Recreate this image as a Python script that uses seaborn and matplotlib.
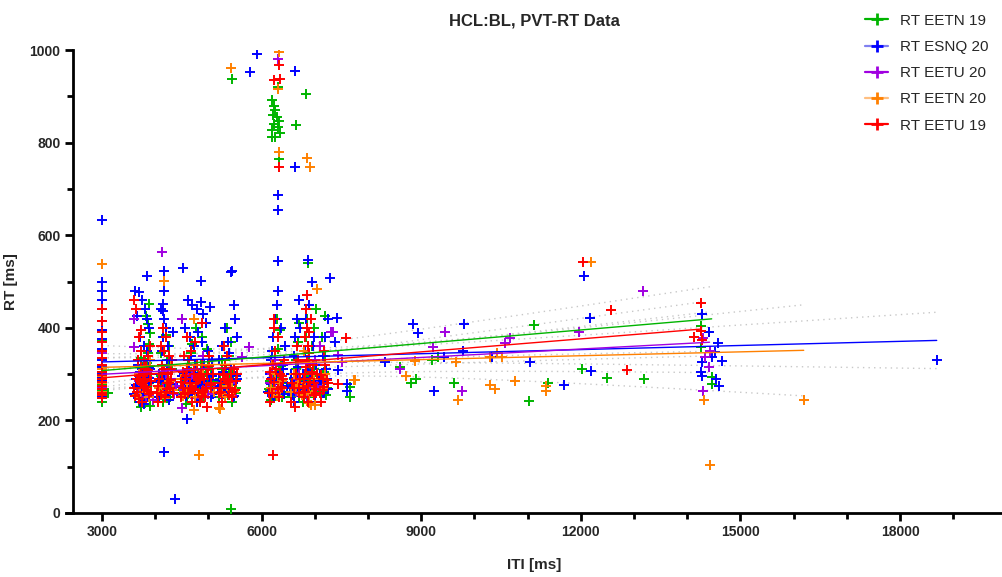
import numpy as np
import matplotlib
matplotlib.use('Agg')
import matplotlib.pyplot as plt
from matplotlib.lines import Line2D
from matplotlib.ticker import MultipleLocator
import seaborn as sns

# valores (ITI em ms, RT em ms)
eetn19_x = [3000, 3000, 3000, 3000, 3000, 3000, 3000, 3000, 3000, 3000, 3000, 3000, 3000, 3120,
            3700, 3740, 3780, 3800, 3820, 3840, 3860, 3880, 3900, 3860, 3820, 3880, 3760, 3800, 3920, 3740, 3850, 3900,
            4060, 4120, 4180, 4220, 4260, 4300, 4150, 4200, 4280, 4320, 4100, 4240,
            4500, 4560, 4620, 4680, 4740, 4800, 4860, 4920, 4980, 5040, 4580, 4700, 4840, 4950, 5060, 4660, 4760, 4880,
            5200, 5280, 5330, 5380, 5420, 5460, 5500, 5250, 5350, 5440, 5420, 5440,
            6150, 6200, 6250, 6300, 6350, 6400, 6180, 6280, 6380, 6330,
            6190, 6230, 6260, 6210, 6280, 6320, 6240, 6300, 6200, 6350, 6260, 6190, 6310, 6320, 6640, 6830,
            6560, 6600, 6640, 6680, 6700, 6620, 6660,
            6780, 6820, 6860, 6900, 6940, 6980, 7020, 6840, 6880, 6920, 6960, 6880, 7000, 6850,
            7120, 7160, 7190, 7200, 7240, 7140,
            7660, 7670, 8600, 8800, 8900, 9200, 9310, 9620, 11030, 11120, 11380, 12030, 12500, 13180,
            14250, 14260, 14460, 14460,
            3000, 3000, 3000, 3000, 3000, 3720, 3760, 3800, 3840, 3880, 3900, 3780, 3820,
            4080, 4140, 4200, 4260, 4320, 4110, 4230,
            4520, 4600, 4680, 4760, 4840, 4920, 5000, 5080, 4640, 4800, 4960,
            5220, 5300, 5380, 5460, 5520, 5260, 5400, 6160, 6220, 6290, 6360, 6420, 6240,
            6580, 6640, 6700, 6620, 6800, 6860, 6920, 6980, 7040, 6840, 6960, 7120, 7180, 7220,
            3000, 3000, 3000, 3000, 3710, 3770, 3830, 3890, 3750, 3850,
            4050, 4130, 4210, 4290, 4170,
            4510, 4590, 4670, 4750, 4830, 4910, 4990, 5070, 4550, 4790,
            5210, 5290, 5370, 5450, 5510, 6140, 6230, 6310, 6390,
            6570, 6650, 6710, 6790, 6870, 6950, 7030, 7130, 7210,
            14250, 12560, 14270, 14410, 12180,
            3000, 3730, 4160, 4610, 4890, 5310, 6270, 6890]
eetn19_y = [240, 248, 255, 263, 272, 282, 292, 305, 318, 332, 350, 372, 395, 260,
            240, 228, 262, 285, 305, 325, 345, 365, 388, 408, 425, 452, 275, 250, 300, 335, 270, 232,
            250, 270, 300, 330, 360, 290, 240, 385, 250, 310, 345, 275,
            260, 300, 330, 345, 285, 250, 320, 270, 355, 300, 235, 365, 240, 310, 260, 275, 400, 380,
            250, 280, 310, 340, 370, 300, 265, 330, 400, 240, 9, 937,
            265, 300, 330, 355, 395, 280, 245, 420, 250, 310,
            892, 880, 870, 860, 855, 848, 840, 835, 828, 820, 812, 813, 921, 765, 839, 906,
            250, 290, 330, 370, 410, 260, 300,
            240, 270, 300, 330, 360, 400, 440, 380, 250, 290, 320, 541, 265, 420,
            260, 300, 426, 340, 280, 380,
            273, 251, 315, 281, 289, 331, 337, 281, 242, 407, 280, 312, 292, 290,
            404, 359, 294, 279,
            258, 268, 278, 288, 298, 262, 292, 310, 275, 255, 318, 300, 282,
            285, 262, 300, 320, 270, 295, 310,
            275, 290, 305, 282, 268, 295, 315, 285, 260, 300, 280,
            290, 272, 305, 285, 260, 312, 295, 285, 270, 300, 318, 262, 290,
            278, 310, 285, 262, 300, 282, 268, 312, 290, 258, 296, 282, 305, 270,
            250, 266, 275, 286, 255, 270, 262, 280, 248, 290,
            262, 278, 255, 285, 268,
            265, 252, 280, 270, 258, 285, 262, 275, 290, 248,
            262, 278, 255, 285, 270, 268, 255, 282, 262,
            262, 280, 252, 270, 258, 285, 262, 268, 255,
            453, 439, 430, 390, 422,
            252, 258, 250, 256, 253, 260, 255, 251]

esnq20_x = [3000, 3000, 3000, 3000, 3000, 3000, 3000, 3000, 3000, 3000, 3000, 3000,
            3620, 3700, 3760, 3800, 3840, 3880, 3720, 3790, 3850, 3900, 3680, 3760, 3820, 3870, 3740, 3800, 3860,
            3710, 3780, 3840, 3650, 3900,
            4040, 4080, 4120, 4150, 4160, 4150, 4150, 4170, 4165, 4200, 4240, 4280, 4300, 4340, 4100, 4220, 4260,
            4165, 4370,
            4520, 4860, 4620, 4700, 4780, 4860, 5030, 4500, 4560, 4650, 4720, 4800, 4880, 4950, 5000, 5060, 4540,
            4610, 4700, 4790, 4880, 4960, 5050, 4590, 4680, 4900, 4750,
            5200, 5260, 5320, 5360, 5420, 5450, 5480, 5500, 5280, 5400, 5460, 5230, 5380, 5780, 5910, 5540,
            6150, 6180, 6220, 6250, 6280, 6300, 6200, 6260, 6320, 6360, 6400, 6300, 6300, 6300, 6160, 6440,
            6550, 6600, 6630, 6660, 6700, 6630, 6630, 6580, 6680, 6720, 6600,
            6780, 6820, 6860, 6880, 6900, 6940, 6980, 7020, 6800, 6920, 7000, 6840, 6960,
            7100, 7150, 7200, 7250, 7290, 7180, 7230,
            7410, 7380, 7430, 7600, 7600, 8310, 8840, 8940, 9240, 9430, 9790, 9800, 10340, 11050, 11680,
            12060, 12180, 12190,
            14270, 14410, 14570, 14530, 14460, 14650, 14270, 14260, 14280, 14550, 14600, 18690,
            3000, 3000, 3640, 3720, 3800, 3880, 3760, 4060, 4140, 4220, 4300, 4180,
            4510, 4590, 4670, 4750, 4830, 4910, 4990, 5070, 4630, 4870,
            5190, 5270, 5350, 5430, 5510, 6170, 6250, 6330, 6410, 6560, 6640, 6690,
            6800, 6880, 6960, 7040, 7130, 7210,
            3000, 3000, 3000, 3000,
            3610, 3650, 3690, 3730, 3770, 3810, 3850, 3890, 3630, 3710, 3790, 3870,
            4040, 4090, 4140, 4190, 4240, 4290, 4340, 4070, 4170, 4270,
            4480, 4540, 4600, 4660, 4720, 4780, 4840, 4900, 4960, 5020, 5080, 4510, 4630, 4750, 4870, 4990, 4570, 4810,
            5180, 5240, 5300, 5360, 5420, 5480, 5540, 5210, 5330, 5450,
            6120, 6170, 6220, 6270, 6320, 6370, 6420, 6470, 6200, 6340,
            6530, 6580, 6630, 6680, 6720, 6610,
            6760, 6810, 6860, 6910, 6960, 7010, 7060, 6840, 6940,
            7100, 7150, 7200, 7250,
            14250, 12560, 14130,
            3000, 3750, 4130, 4570, 4830, 5270, 6230, 6850]
esnq20_y = [250, 300, 330, 355, 375, 395, 415, 440, 460, 480, 500, 634,
            480, 478, 460, 440, 420, 400, 380, 360, 350, 330, 320, 300, 290, 280, 270, 260, 250,
            240, 235, 513, 425, 310,
            250, 300, 350, 380, 420, 437, 451, 480, 522, 400, 360, 330, 270, 390, 440, 300, 245,
            132, 30,
            530, 502, 460, 450, 440, 455, 445, 420, 400, 380, 360, 390, 370, 410, 350, 330, 300,
            280, 260, 240, 310, 270, 250, 203, 340, 430, 320,
            330, 360, 400, 370, 521, 522, 450, 420, 300, 280, 250, 260, 345, 953, 992, 380,
            300, 330, 380, 420, 450, 480, 350, 270, 250, 400, 320, 655, 687, 545, 260, 360,
            300, 340, 380, 420, 460, 748, 955, 260, 290, 400, 240,
            300, 350, 400, 546, 450, 500, 380, 320, 260, 280, 240, 420, 360,
            300, 340, 380, 420, 508, 260, 290,
            422, 370, 309, 264, 279, 327, 409, 389, 264, 337, 349, 409, 338, 326, 276,
            513, 422, 307,
            430, 390, 368, 348, 338, 329, 327, 305, 296, 289, 275, 330,
            285, 315, 290, 305, 278, 315, 262, 282, 300, 318, 272, 292,
            295, 310, 278, 302, 285, 320, 268, 295, 308, 280,
            288, 305, 270, 312, 295, 290, 305, 278, 312, 300, 282, 315,
            292, 308, 275, 300, 285, 310,
            262, 272, 282, 292,
            258, 272, 285, 265, 250, 280, 268, 292, 276, 262, 288, 255,
            262, 285, 270, 255, 290, 268, 278, 250, 282, 265,
            255, 275, 262, 288, 270, 250, 282, 265, 278, 290, 258, 272, 285, 260, 275, 268, 252, 292,
            270, 258, 285, 265, 278, 252, 290, 275, 262, 282,
            262, 278, 255, 288, 270, 282, 258, 275, 292, 265,
            270, 255, 285, 262, 278, 292,
            265, 282, 255, 290, 272, 260, 285, 278, 268,
            275, 260, 288, 268,
            453, 439, 380,
            256, 252, 258, 254, 251, 257, 253, 255]

eetu20_x = [3000, 3000, 3000, 3610, 3610, 3960, 4130, 4500, 4500, 4300, 4600, 4700, 4900, 5100, 5400,
            5640, 5760, 6200, 6250, 6300, 6650, 6700, 6900, 7000, 7100, 7300, 7350, 7440, 7520,
            8600, 9220, 9450, 9770, 10570, 10670, 11960, 13170,
            14290, 14420, 14330, 14410, 14300,
            3000, 3700, 3850, 4200, 4400, 4800, 5000, 5300, 6150, 6350, 6800, 7050,
            3000, 3000, 3680, 3820, 4150, 4350, 4550, 4750, 4950, 5200, 5450, 6250, 6650, 6850, 7150]
eetu20_y = [295, 320, 345, 420, 359, 244, 563, 420, 226, 290, 290, 300, 340, 270, 280,
            336, 359, 300, 330, 982, 290, 300, 270, 330, 360, 392, 392, 341, 327,
            310, 359, 390, 264, 368, 379, 392, 480,
            379, 351, 338, 316, 264,
            270, 285, 262, 300, 275, 290, 258, 300, 280, 265, 290, 275,
            255, 268, 262, 250, 270, 258, 265, 248, 272, 260, 255, 268, 262, 252, 270]

eetn20_x = [3000, 3000, 3000, 3700, 3800, 3900, 4170, 4300, 4250, 4480, 4600, 4730, 4720, 4820, 4900,
            5000, 5190, 5220, 5300, 5420, 5450,
            6200, 6300, 6320, 6310, 6320, 6250, 6850, 6910, 6600, 6650, 6900, 6920, 7000, 6800, 7050,
            7200, 7740, 7750, 8710, 8880, 9650, 9700, 10290, 10420, 10510, 10290, 10390, 10770,
            11350, 11350, 12190, 14320, 14420, 16190,
            3000, 3000, 3650, 3750, 3850, 4080, 4180, 4280,
            4550, 4650, 4750, 4850, 4950, 5050, 5250, 5350, 5480,
            6180, 6280, 6380, 6560, 6680, 6820, 6900, 6980, 7150, 7220,
            3000, 3720, 3880, 4130, 4330, 4520, 4700, 4880, 5100, 5320, 6230, 6350, 6750, 6950,
            14130, 14250, 14250, 14270, 12560]
eetn20_y = [280, 310, 537, 300, 270, 330, 501, 320, 285, 290, 270, 419, 222, 125, 300,
            310, 226, 224, 290, 962, 270,
            320, 280, 996, 917, 780, 300, 768, 748, 300, 275, 237, 233, 233, 350, 483,
            300, 287, 288, 297, 329, 326, 245, 336, 345, 336, 276, 268, 286,
            274, 263, 543, 244, 104, 244,
            262, 295, 255, 280, 268, 270, 248, 285,
            262, 278, 250, 290, 268, 280, 258, 275, 262,
            270, 252, 285, 262, 280, 275, 258, 290, 268, 280,
            255, 262, 250, 258, 265, 252, 268, 255, 262, 250, 260, 268, 255, 262,
            380, 453, 394, 374, 439]

eetu19_x = [3000, 3000, 3000, 3000, 3000, 3000, 3000, 3000, 3000, 3000, 3000,
            3600, 3640, 3700, 3740, 3780, 3820, 3860, 3900, 3660, 3720, 3760, 3800, 3840, 3880, 3620, 3700,
            3780, 3860, 3740, 3820, 3920, 3680, 3760, 3900,
            4040, 4080, 4120, 4160, 4200, 4240, 4280, 4320, 4060, 4100, 4180, 4220, 4260, 4300, 4140, 4340,
            4480, 4520, 4560, 4600, 4640, 4680, 4720, 4760, 4800, 4840, 4880, 4920, 4960, 5000, 5040, 5080,
            4540, 4620, 4700, 4780, 4860, 4940, 5020, 4660, 4740, 4820, 4900, 4980, 4600, 4880,
            5200, 5240, 5280, 5320, 5360, 5400, 5440, 5480, 5520, 5260, 5340, 5420, 5500, 5300,
            6140, 6180, 6220, 6260, 6300, 6340, 6380, 6420, 6160, 6240, 6320, 6400, 6210, 6230, 6350, 6320,
            6320, 6230,
            6560, 6600, 6640, 6680, 6700, 6620, 6660, 6720,
            6780, 6820, 6860, 6880, 6900, 6920, 6840, 6860, 6940, 6980, 7020, 6800, 6880, 6960, 6900, 6860,
            6820, 7040,
            7100, 7150, 7200, 7240, 7120, 7180,
            7430, 7580, 12040, 12560, 12870, 14130, 14250, 14250, 14270,
            3000, 3000, 3000, 3610, 3690, 3770, 3850, 3930, 3730, 3810,
            4050, 4130, 4210, 4290, 4170, 4250,
            4490, 4570, 4650, 4730, 4810, 4890, 4970, 5050, 4530, 4690, 4850, 5010,
            5210, 5290, 5370, 5450, 5530, 5330, 6150, 6230, 6310, 6390, 6270,
            6570, 6650, 6710, 6790, 6870, 6950, 7030, 6830, 6910, 7110, 7170, 7230,
            3000, 3000, 3650, 3790, 4110, 4230, 4560, 4720, 4880, 5040, 5230, 5390, 6190, 6370, 6810, 6990, 7160]
eetu19_y = [260, 275, 290, 305, 320, 335, 350, 370, 392, 415, 440,
            460, 440, 380, 350, 330, 318, 308, 300, 290, 285, 278, 272, 265, 258, 252, 246,
            300, 340, 395, 312, 285, 330, 240, 360,
            260, 290, 320, 350, 380, 300, 270, 330, 240, 360, 250, 280, 340, 310, 400, 260,
            250, 270, 290, 310, 330, 350, 300, 280, 260, 240, 320, 290, 270, 310, 280, 300,
            340, 260, 240, 320, 300, 250, 340, 280, 370, 295, 265, 230, 380, 410,
            260, 280, 300, 320, 290, 270, 250, 310, 285, 240, 340, 300, 265, 360,
            260, 290, 320, 350, 380, 300, 270, 330, 240, 400, 250, 290, 125, 936, 938, 969,
            748, 420,
            240, 270, 300, 330, 260, 230, 360, 290,
            270, 300, 330, 360, 390, 420, 440, 470, 300, 280, 260, 250, 240, 320, 345, 400,
            380, 300,
            260, 290, 320, 280, 240, 350,
            279, 379, 543, 439, 308, 380, 453, 394, 374,
            248, 282, 298, 270, 295, 282, 305, 262, 315, 290,
            275, 300, 262, 288, 312, 280,
            282, 296, 270, 310, 288, 262, 300, 276, 305, 268, 292, 318,
            270, 298, 282, 262, 300, 288, 305, 282, 268, 296, 312,
            280, 300, 270, 290, 275, 305, 268, 315, 282, 298, 272, 288,
            255, 268, 262, 270, 255, 268, 258, 265, 252, 270, 262, 255, 260, 272, 262, 255, 265]

labels = ['RT EETN 19', 'RT ESNQ 20', 'RT EETU 20', 'RT EETN 20', 'RT EETU 19']
xs = [eetn19_x, esnq20_x, eetu20_x, eetn20_x, eetu19_x]
ys = [eetn19_y, esnq20_y, eetu20_y, eetn20_y, eetu19_y]
cores = ['#00b400', '#0000ff', '#a000e0', '#ff8000', '#ff0000']
cores_legenda = ['#00b400', '#8080f0', '#a000e0', '#ffbf80', '#ff0000']
ordem = [1, 2, 3, 0, 4]  # vermelho por cima

sns.set_theme(style='ticks')
plt.rcParams['font.family'] = ['Liberation Sans', 'DejaVu Sans']

fig = plt.figure(figsize=(10.03, 5.77), dpi=100)
ax = fig.add_axes([0.0658, 0.111, 0.9342, 0.802])

for i in ordem:
    sns.scatterplot(x=xs[i], y=ys[i], marker='+', color=cores[i], s=45, linewidth=1.4, ax=ax, zorder=3 + i)

# retas de regressão e intervalos de confiança (pontilhado)
for i in ordem:
    x = np.array(xs[i], float)
    y = np.array(ys[i], float)
    sns.regplot(x=x, y=y, scatter=False, ci=None, color=cores[i], line_kws=dict(lw=1.0, zorder=10), ax=ax)
    n = len(x)
    b, a = np.polyfit(x, y, 1)
    res = y - (a + b * x)
    s = np.sqrt(np.sum(res ** 2) / (n - 2))
    gx = np.linspace(x.min(), x.max(), 100)
    se = s * np.sqrt(1 / n + (gx - x.mean()) ** 2 / np.sum((x - x.mean()) ** 2))
    for sgn in (-1, 1):
        ax.plot(gx, a + b * gx + sgn * 1.97 * se, ls=(0, (1, 3)), color='#c8c8c8', lw=1.0, zorder=2)

ax.set_xlim(2323, 19936)
ax.set_ylim(0, 1000)
ax.spines['left'].set_position(('data', 2455))
ax.spines['top'].set_visible(False)
ax.spines['right'].set_visible(False)
for sp in ['left', 'bottom']:
    ax.spines[sp].set_linewidth(2)
    ax.spines[sp].set_color('black')
ax.spines['left'].set_bounds(0, 1000)
ax.xaxis.set_minor_locator(MultipleLocator(1000))
ax.yaxis.set_major_locator(MultipleLocator(200))
ax.yaxis.set_minor_locator(MultipleLocator(100))
ax.set_xticks([3000, 6000, 9000, 12000, 15000, 18000])
ax.tick_params(which='major', length=6, width=2, color='black', labelsize=10, pad=3)
ax.tick_params(which='minor', length=4, width=2, color='black')
for t in ax.get_xticklabels() + ax.get_yticklabels():
    t.set_fontweight('bold')
    t.set_family(['Liberation Sans Narrow', 'Liberation Sans', 'DejaVu Sans'])

ax.set_xlabel('ITI [ms]', fontsize=11, fontweight='bold', labelpad=13)
ax.set_ylabel('RT [ms]', fontsize=11, fontweight='bold', labelpad=8)
ax.set_title('HCL:BL, PVT-RT Data', fontsize=12, fontweight='bold', pad=18)

handles = [Line2D([0], [0], color=cores_legenda[i], lw=1.6, marker='+', markersize=8,
                  markeredgewidth=2, markeredgecolor=cores[i]) for i in range(5)]
fig.legend(handles, labels, loc='upper left', bbox_to_anchor=(0.849, 1.0), frameon=False,
           fontsize=11, handlelength=1.5, labelspacing=0.8, handletextpad=0.8)

plt.savefig('out.png', dpi=100)
